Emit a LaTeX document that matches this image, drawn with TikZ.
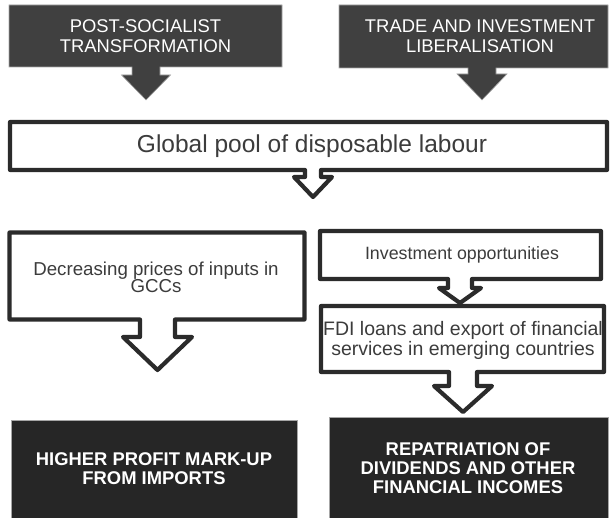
\documentclass[tikz,border=0pt]{standalone}
\usepackage{fontspec}
\setmainfont{Liberation Sans}
\definecolor{topdark}{HTML}{404040}
\definecolor{botdark}{HTML}{262626}
\definecolor{edge}{HTML}{2B2B2B}
\definecolor{txt}{HTML}{3C3C3C}
\begin{document}
\begin{tikzpicture}[x=1pt,y=-1pt,
  topshape/.style={fill=topdark, draw=black!35, line width=0.6pt},
  botshape/.style={fill=botdark, draw=black!35, line width=0.6pt},
  hollow/.style={draw=edge, fill=white, line width=4.2pt, line join=round},
  lbl/.style={text=txt, align=center, inner sep=0pt},
  toplbl/.style={text=white, align=center, inner sep=0pt, font=\fontsize{18.4}{19.5}\selectfont},
  botlbl/.style={text=white, align=center, inner sep=0pt, font=\bfseries\fontsize{18.4}{18.8}\selectfont}]
\useasboundingbox (0,0) rectangle (613,518);

% top dark boxes with solid arrows
\path[topshape] (9,5) -- (282,5) -- (282,67) -- (160,67) -- (160,75) -- (170.5,75) -- (146,100) -- (121.5,75) -- (132,75) -- (132,67) -- (9,67) -- cycle;
\path[topshape] (339,5) -- (608,5) -- (608,68) -- (496,68) -- (496,74) -- (507,74) -- (482,100) -- (457,74) -- (468,74) -- (468,68) -- (339,68) -- cycle;

% global pool
\draw[hollow] (10,122) -- (607,122) -- (607,170) -- (321,170) -- (321,177) -- (332,177) -- (313,197) -- (294,177) -- (305,177) -- (305,170) -- (10,170) -- cycle;

% left middle
\draw[hollow] (9.5,232.5) -- (304.5,232.5) -- (304.5,319.5) -- (175,319.5) -- (175,337) -- (192,337) -- (157.5,370) -- (123,337) -- (140,337) -- (140,319.5) -- (9.5,319.5) -- cycle;

% investment opportunities
\draw[hollow] (320,231) -- (601,231) -- (601,279) -- (472,279) -- (472,288) -- (481,288) -- (460,303) -- (439,288) -- (448,288) -- (448,279) -- (320,279) -- cycle;

% FDI
\draw[hollow] (321,306) -- (604,306) -- (604,372) -- (477,372) -- (477,386) -- (492,386) -- (463,412) -- (434,386) -- (449,386) -- (449,372) -- (321,372) -- cycle;

% bottom dark boxes
\path[botshape] (11,420) rectangle (297,519);
\path[botshape] (329,417) rectangle (608,519);

% labels
\node[toplbl] (postsoc) at (145.5,36) {POST-SOCIALIST\\TRANSFORMATION};
\node[toplbl] (trade) at (480,36) {TRADE AND INVESTMENT\\LIBERALISATION};
\node[lbl, font=\fontsize{24.5}{26}\selectfont] (pool) at (312,146) {Global pool of disposable labour};
\node[lbl, font=\fontsize{18.7}{17}\selectfont] (prices) at (156,277) {Decreasing prices of inputs in\\GCCs};
\node[lbl, font=\fontsize{17.8}{19}\selectfont] (invest) at (462,255) {Investment opportunities};
\node[lbl, font=\fontsize{19.5}{20}\selectfont] (fdi) at (463,340) {FDI loans and export of financial\\services in emerging countries};
\node[botlbl] (markup) at (154,469) {HIGHER PROFIT MARK-UP\\FROM IMPORTS};
\node[botlbl] (repat) at (468,468) {REPATRIATION OF\\DIVIDENDS AND OTHER\\FINANCIAL INCOMES};
\end{tikzpicture}
\end{document}
